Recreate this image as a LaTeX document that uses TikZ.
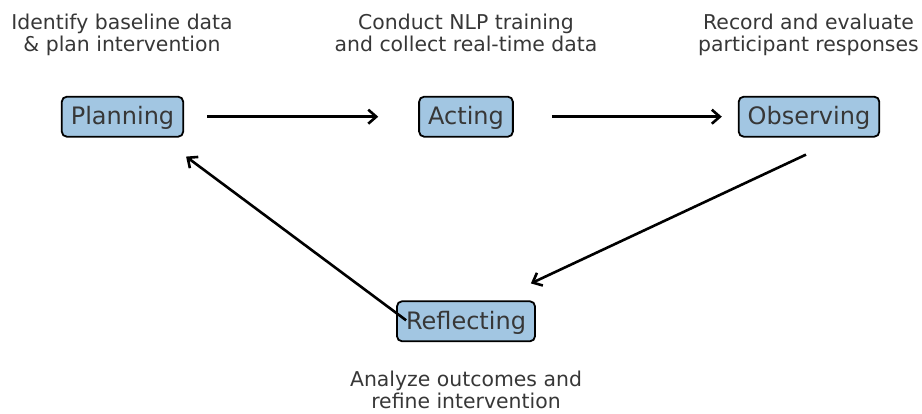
\documentclass[tikz,border=0pt]{standalone}
\usepackage{fontspec}
\setmainfont{DejaVu Sans}
\usetikzlibrary{positioning, calc, arrows.meta}

\definecolor{stagefill}{RGB}{162,198,226}
\definecolor{textgray}{RGB}{55,55,55}

\begin{document}
\begin{tikzpicture}[x=1pt, y=-1pt,
    stage/.style={draw, line width=1.8pt, rounded corners=5pt, fill=stagefill,
        text=textgray, font=\fontsize{24}{28}\selectfont,
        text height=21pt, text depth=4.5pt, inner xsep=9pt, inner ysep=7.25pt},
    desc/.style={align=center, text=textgray, anchor=base, inner sep=0pt,
        font=\fontsize{20.4}{21.8}\selectfont},
    flow/.style={line width=2.6pt, -{Straight Barb[length=8pt, width=14pt, line width=2.6pt]}}]
\useasboundingbox (0,0) rectangle (922,414);

% the four stages
\node[stage] (plan) at (122.5, 116.7) {Planning};
\node[stage] (act) at (466, 116.7) {Acting};
\node[stage] (obs) at (809, 116.7) {Observing};
\node[stage] (refl) at (466, 321.3) {Reflecting};

% what happens in each stage (base = last line)
\node[desc] (plantxt) at (122, 51.5) {Identify baseline data\\\& plan intervention};
\node[desc] (acttxt) at (466, 51.5) {Conduct NLP training\\and collect real-time data};
\node[desc] (obstxt) at (808.5, 51.5) {Record and evaluate\\participant responses};
\node[desc] (refltxt) at (466, 408) {Analyze outcomes and\\refine intervention};

% the cycle
\draw[flow, shorten <=23pt, shorten >=40pt] (plan.east) -- (act.west);
\draw[flow, shorten <=38pt, shorten >=16pt] (act.east) -- (obs.west);
\draw[flow] ($(obs.south)+(-3,17)$) -- ($(refl.north east)+(-5,-17)$);
\draw[flow] ($(refl.west)+(10,-1)$) -- ($(plan.south east)+(2,19)$);

\end{tikzpicture}
\end{document}
